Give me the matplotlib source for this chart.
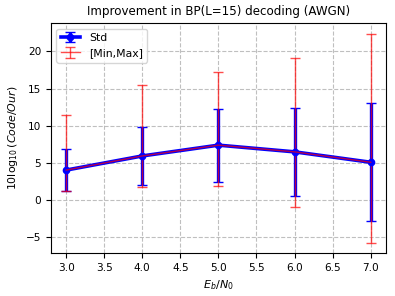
import numpy as np
import matplotlib
matplotlib.use("Agg")
import matplotlib.pyplot as plt

# Eb/N0 points and improvement statistics (dB)
ebn0 = [3.0, 4.0, 5.0, 6.0, 7.0]
mean_impr = [4.05, 5.95, 7.4, 6.5, 5.1]
std_impr = [2.8, 3.9, 4.9, 5.9, 7.9]
min_impr = [1.3, 1.75, 1.95, -0.9, -5.7]
max_impr = [11.5, 15.5, 17.2, 19.1, 22.4]

mean_arr = np.array(mean_impr)
minmax_err = [mean_arr - np.array(min_impr), np.array(max_impr) - mean_arr]

fig, ax = plt.subplots(figsize=(3.95, 2.96), dpi=100)
fig.subplots_adjust(left=0.129, right=0.977, top=0.922, bottom=0.145)

ax.errorbar(ebn0, mean_impr, yerr=std_impr, color="blue", lw=2.6,
            marker="o", markersize=4.5, capsize=3.6, elinewidth=2.4,
            label="Std")
ax.errorbar(ebn0, mean_impr, yerr=minmax_err, color="red", lw=1,
            capsize=3.6, alpha=0.7, label="[Min,Max]")

ax.set_xticks(np.arange(3.0, 7.01, 0.5))
ax.tick_params(labelsize=7.6)
ax.grid(True, linestyle="--", alpha=0.8)
ax.set_title("Improvement in BP(L=15) decoding (AWGN)", fontsize=8.6)
ax.set_xlabel(r"$E_b/N_0$", fontsize=8)
ax.set_ylabel(r"10$\log_{10}(Code/Our)$", fontsize=7.9)
ax.legend(loc="upper left", fontsize=7.8, handlelength=1.8)

plt.savefig("out.png", dpi=100)
